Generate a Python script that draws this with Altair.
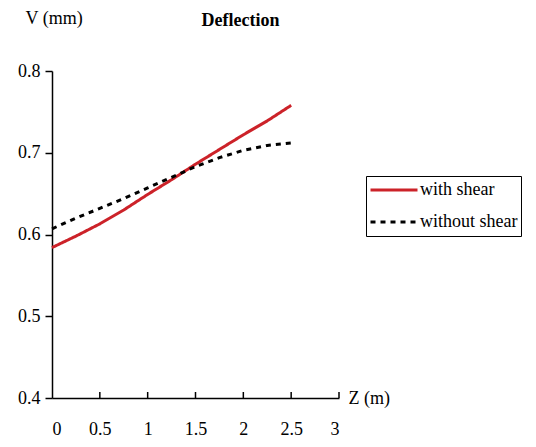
import altair as alt
import pandas as pd

z = [0.0, 0.25, 0.5, 0.75, 1.0, 1.25, 1.5, 1.75, 2.0, 2.25, 2.5]
with_shear = [0.584, 0.598, 0.613, 0.630, 0.649, 0.667, 0.686, 0.704, 0.722, 0.739, 0.758]
without_shear = [0.607, 0.620, 0.632, 0.644, 0.657, 0.670, 0.683, 0.694, 0.703, 0.709, 0.712]
series = ["with shear", "without shear"]
x_ticks = [0, 0.5, 1, 1.5, 2, 2.5, 3]
y_ticks = [0.4, 0.5, 0.6, 0.7, 0.8]

rows = []
for s, vals in zip(series, [with_shear, without_shear]):
    for zi, v in zip(z, vals):
        rows.append({"Z": zi, "V": v, "series": s})
df = pd.DataFrame(rows)
tick_df = pd.DataFrame({"t": x_ticks[1:]})

FONT = "Liberation Serif"
W, H = 287, 327

xs = alt.Scale(domain=[0, 3], nice=False, zero=False)
ys = alt.Scale(domain=[0.4, 0.8], nice=False, zero=False)

lines = alt.Chart(df).mark_line(strokeWidth=3).encode(
    x=alt.X("Z:Q", scale=xs, axis=alt.Axis(
        values=x_ticks, format="~g", ticks=False, grid=False,
        domainColor="black", domainWidth=1.5, labelPadding=22,
        labelFont=FONT, labelFontSize=18, labelColor="black",
        title="Z (m)", titleFont=FONT, titleFontSize=18, titleFontWeight="normal",
        titleColor="black", titleX=W + 9, titleY=0, titleAlign="left",
        titleBaseline="middle", titleAngle=0)),
    y=alt.Y("V:Q", scale=ys, axis=alt.Axis(
        values=y_ticks, format=".1f", grid=False, tickSize=7,
        domainColor="black", domainWidth=1.5, tickColor="black", tickWidth=1.5,
        labelPadding=5, labelFont=FONT, labelFontSize=18, labelColor="black",
        title="V (mm)", titleFont=FONT, titleFontSize=18, titleFontWeight="normal",
        titleColor="black", titleAngle=0, titleX=-27, titleY=-48,
        titleAlign="left", titleBaseline="alphabetic")),
    color=alt.Color("series:N", scale=alt.Scale(domain=series, range=["#cc2229", "black"]),
                    legend=alt.Legend(
                        title=None, orient="none", legendX=314, legendY=105,
                        strokeColor="black", fillColor="white", padding=3,
                        symbolType="stroke", symbolSize=2209, symbolStrokeWidth=3,
                        clipHeight=22,
                        labelFont=FONT, labelFontSize=18, labelColor="black",
                        labelOffset=1, rowPadding=10, labelLimit=300)),
    strokeDash=alt.StrokeDash("series:N", scale=alt.Scale(domain=series, range=[[1, 0], [5, 5]]),
                              legend=None),
)

ticks = alt.Chart(tick_df).mark_rule(color="black", strokeWidth=1.5).encode(
    x=alt.X("t:Q", scale=xs),
    y=alt.value(H),
    y2=alt.value(H - 6),
)

chart = alt.layer(lines, ticks).properties(
    width=W, height=H,
    title=alt.TitleParams("Deflection", font=FONT, fontSize=18, fontWeight="bold",
                          color="black", anchor="middle", dx=45, dy=21, offset=0),
    autosize=alt.AutoSizeParams(type="none"),
    padding={"left": 44, "top": 63, "right": 189, "bottom": 41},
).configure_view(stroke=None).resolve_scale(color="shared")

chart.save("out.html", embed_options={"renderer": "svg", "actions": False})
